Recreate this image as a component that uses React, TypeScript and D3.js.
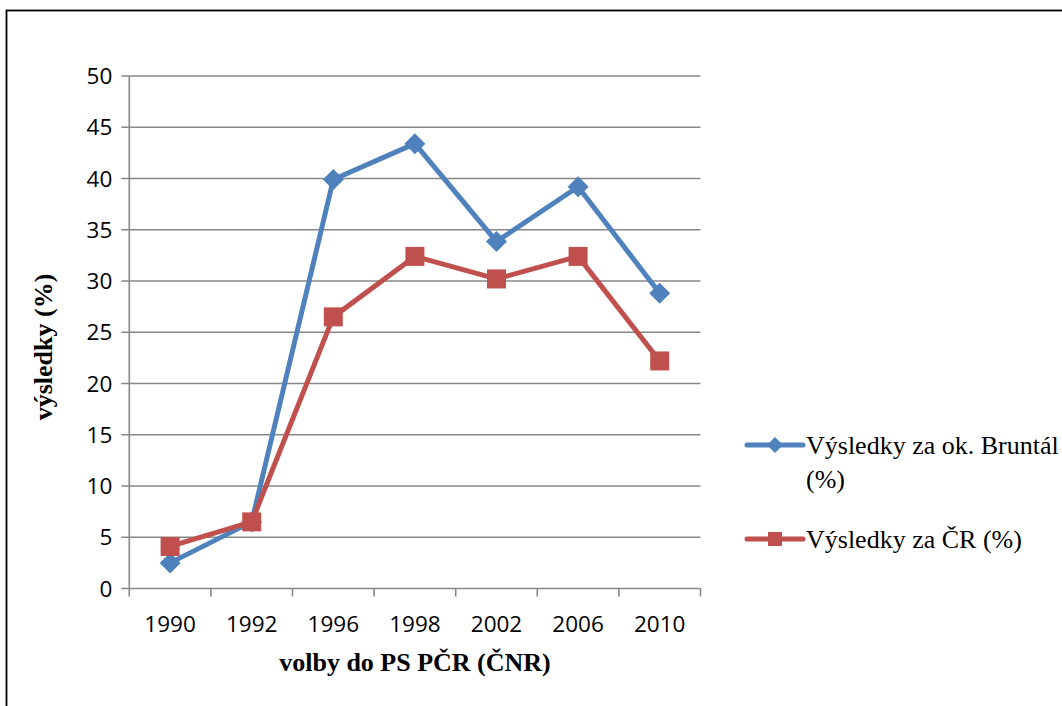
import { useEffect, useRef } from "react";
import * as d3 from "d3";

// election years (categories)
const YEARS = ["1990", "1992", "1996", "1998", "2002", "2006", "2010"];
// results for Bruntál district (%)
const BRUNTAL = [2.5, 6.5, 39.9, 43.4, 33.85, 39.2, 28.8];
// results for the whole Czech Republic (%)
const CR = [4.1, 6.5, 26.5, 32.4, 30.2, 32.4, 22.2];
const Y_TICKS = [0, 5, 10, 15, 20, 25, 30, 35, 40, 45, 50];

const SERIES_NAMES = ["Výsledky za ok. Bruntál", "Výsledky za ČR (%)"];
const BLUE = "#4F81BD";
const RED = "#C0504D";

const W = 1062;
const H = 706;

export default function App() {
  const svgRef = useRef<SVGSVGElement>(null);

  useEffect(() => {
    if (!svgRef.current) return;
    const svg = d3.select(svgRef.current);
    svg.selectAll("*").remove();

    const left = 129.3;
    const right = 700.5;
    const top = 76;
    const bottom = 588.5;

    // outer chart border (runs off the right and bottom edges)
    svg
      .append("rect")
      .attr("x", 6.5)
      .attr("y", 10.5)
      .attr("width", W + 20)
      .attr("height", H + 20)
      .attr("fill", "white")
      .attr("stroke", "#000")
      .attr("stroke-width", 1.8);

    const x = d3.scaleBand<string>().domain(YEARS).range([left, right]);
    const y = d3.scaleLinear().domain([0, 50]).range([bottom, top]);

    const g = svg.append("g");

    // horizontal gridlines + y tick marks
    g.selectAll(".grid")
      .data(Y_TICKS)
      .enter()
      .append("line")
      .attr("x1", left - 8)
      .attr("x2", right)
      .attr("y1", (d) => y(d))
      .attr("y2", (d) => y(d))
      .attr("stroke", "#878787")
      .attr("stroke-width", 1.6);

    // y axis line
    g.append("line")
      .attr("x1", left)
      .attr("x2", left)
      .attr("y1", top)
      .attr("y2", bottom + 8)
      .attr("stroke", "#878787")
      .attr("stroke-width", 1.6);

    // x tick marks at band boundaries
    const bounds = YEARS.map((d) => x(d)!).concat([right]);
    g.selectAll(".xtick")
      .data(bounds.slice(1))
      .enter()
      .append("line")
      .attr("x1", (d) => d)
      .attr("x2", (d) => d)
      .attr("y1", bottom)
      .attr("y2", bottom + 8)
      .attr("stroke", "#878787")
      .attr("stroke-width", 1.6);

    const tickFont = "'Open Sans', sans-serif";
    const tickSize = "22.5px";

    // y tick labels
    g.selectAll(".ylab")
      .data(Y_TICKS)
      .enter()
      .append("text")
      .attr("x", left - 17)
      .attr("y", (d) => y(d))
      .attr("dy", "0.36em")
      .attr("text-anchor", "end")
      .attr("font-family", tickFont)
      .attr("font-size", tickSize)
      .attr("fill", "#000")
      .text((d) => String(d));

    // x tick labels
    g.selectAll(".xlab")
      .data(YEARS)
      .enter()
      .append("text")
      .attr("x", (d) => x(d)! + x.bandwidth() / 2)
      .attr("y", 632)
      .attr("text-anchor", "middle")
      .attr("font-family", tickFont)
      .attr("font-size", tickSize)
      .attr("fill", "#000")
      .text((d) => d);

    // axis titles
    g.append("text")
      .attr("x", 415)
      .attr("y", 671)
      .attr("text-anchor", "middle")
      .attr("font-family", "'Liberation Serif', serif")
      .attr("font-weight", "bold")
      .attr("font-size", "26px")
      .text("volby do PS PČR (ČNR)");

    g.append("text")
      .attr("transform", "translate(52,347) rotate(-90)")
      .attr("text-anchor", "middle")
      .attr("font-family", "'Liberation Serif', serif")
      .attr("font-weight", "bold")
      .attr("font-size", "26px")
      .text("výsledky (%)");

    const cx = (i: number) => x(YEARS[i])! + x.bandwidth() / 2;
    const line = d3
      .line<number>()
      .x((_, i) => cx(i))
      .y((d) => y(d));

    const diamond = (s: number) => `M0,${-s}L${s},0L0,${s}L${-s},0Z`;

    // Bruntál series (under the red one)
    g.append("path")
      .datum(BRUNTAL)
      .attr("fill", "none")
      .attr("stroke", BLUE)
      .attr("stroke-width", 5)
      .attr("stroke-linejoin", "round")
      .attr("d", line);
    g.selectAll(".dia")
      .data(BRUNTAL)
      .enter()
      .append("path")
      .attr("transform", (d, i) => `translate(${cx(i)},${y(d)})`)
      .attr("d", diamond(10.5))
      .attr("fill", BLUE);

    // ČR series
    g.append("path")
      .datum(CR)
      .attr("fill", "none")
      .attr("stroke", RED)
      .attr("stroke-width", 5)
      .attr("stroke-linejoin", "round")
      .attr("d", line);
    g.selectAll(".sq")
      .data(CR)
      .enter()
      .append("rect")
      .attr("x", (_, i) => cx(i) - 9.5)
      .attr("y", (d) => y(d) - 9.5)
      .attr("width", 19)
      .attr("height", 19)
      .attr("fill", RED);

    // legend
    const leg = svg.append("g");
    const lx1 = 747;
    const lx2 = 803;
    const lmid = (lx1 + lx2) / 2;

    leg.append("line")
      .attr("x1", lx1).attr("x2", lx2).attr("y1", 445).attr("y2", 445)
      .attr("stroke", BLUE).attr("stroke-width", 5).attr("stroke-linecap", "round");
    leg.append("path")
      .attr("transform", `translate(${lmid},445)`)
      .attr("d", diamond(8))
      .attr("fill", BLUE);
    leg.append("text")
      .attr("x", 806).attr("y", 454)
      .attr("font-family", "'Liberation Serif', serif")
      .attr("font-size", "26px")
      .text(SERIES_NAMES[0]);
    leg.append("text")
      .attr("x", 806).attr("y", 488)
      .attr("font-family", "'Liberation Serif', serif")
      .attr("font-size", "26px")
      .text("(%)");

    leg.append("line")
      .attr("x1", lx1).attr("x2", lx2).attr("y1", 539).attr("y2", 539)
      .attr("stroke", RED).attr("stroke-width", 5).attr("stroke-linecap", "round");
    leg.append("rect")
      .attr("x", lmid - 7).attr("y", 532).attr("width", 14).attr("height", 14)
      .attr("fill", RED);
    leg.append("text")
      .attr("x", 806).attr("y", 548)
      .attr("font-family", "'Liberation Serif', serif")
      .attr("font-size", "26px")
      .text(SERIES_NAMES[1]);
  }, []);

  return (
    <svg
      ref={svgRef}
      width={W}
      height={H}
      style={{ position: "absolute", left: 0, top: 0, background: "white" }}
    />
  );
}
